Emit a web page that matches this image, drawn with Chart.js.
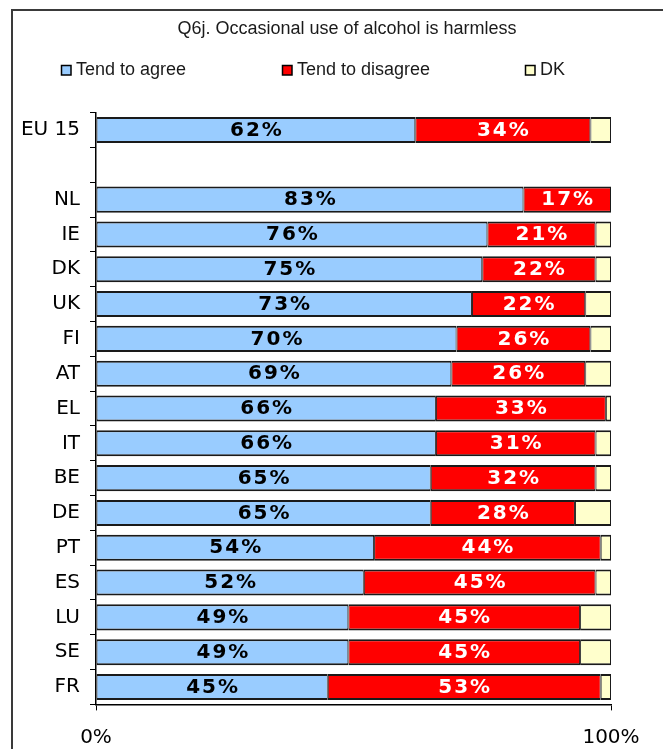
<!DOCTYPE html>
<html>
<head>
<meta charset="utf-8">
<script src="https://cdn.jsdelivr.net/npm/chart.js@4.4.1/dist/chart.umd.min.js"></script>
<style>
  html, body { margin: 0; padding: 0; background: #fff; overflow: hidden; }
  #frame { position: absolute; left: 11px; top: 9px; width: 700px; height: 800px; border-left: 2px solid #3a3a3a; border-top: 2px solid #3a3a3a; }
  #chart { position: absolute; left: 0; top: 0; }
</style>
</head>
<body>
<div id="frame"></div>
<canvas id="chart" width="663" height="749"></canvas>
<script>
const title = 'Q6j. Occasional use of alcohol is harmless'
const countries = ['EU 15', '', 'NL', 'IE', 'DK', 'UK', 'FI', 'AT', 'EL', 'IT', 'BE', 'DE', 'PT', 'ES', 'LU', 'SE', 'FR']
const agree = [62, null, 83, 76, 75, 73, 70, 69, 66, 66, 65, 65, 54, 52, 49, 49, 45]
const disagree = [34, null, 17, 21, 22, 22, 26, 26, 33, 31, 32, 28, 44, 45, 45, 45, 53]
const dk = [4, null, 0, 3, 3, 5, 4, 5, 1, 3, 3, 7, 2, 3, 6, 6, 2]
const xTicks = [0, 100]

// title + legend are drawn by hand, the built-in legend can't space items like this
const headerPlugin = {
  id: 'header',
  afterDraw (chart) {
    const ctx = chart.ctx
    ctx.save()
    ctx.fillStyle = '#1a1a1a'
    ctx.font = '18px "Liberation Sans", Arial, sans-serif'
    ctx.textAlign = 'center'
    ctx.textBaseline = 'middle'
    ctx.fillText(title, 347, 29)

    const legendX = [61, 282, 525]
    ctx.textAlign = 'left'
    ctx.font = '18px "Liberation Sans", Arial, sans-serif'
    chart.data.datasets.forEach((ds, i) => {
      const x = legendX[i]
      ctx.fillStyle = ds.backgroundColor
      ctx.fillRect(x, 65, 10, 10)
      ctx.strokeStyle = '#000'
      ctx.lineWidth = 1.5
      ctx.strokeRect(x + 0.5, 65.5, 9.5, 9.5)
      ctx.fillStyle = '#1a1a1a'
      ctx.fillText(ds.label, x + 15, 70)
    })
    ctx.restore()
  }
}

const valueLabels = {
  id: 'valueLabels',
  afterDatasetsDraw (chart) {
    const ctx = chart.ctx
    ctx.save()
    ctx.font = 'bold 20px "DejaVu Sans", sans-serif'
    ctx.letterSpacing = '2px'
    ctx.textAlign = 'center'
    ctx.textBaseline = 'middle'
    chart.data.datasets.forEach((ds, i) => {
      if (!ds.labelColor) return
      chart.getDatasetMeta(i).data.forEach((bar, j) => {
        const v = ds.data[j]
        if (!v) return
        ctx.fillStyle = ds.labelColor
        ctx.fillText(v + '%', (bar.x + bar.base) / 2 + 1, bar.y + 0.5)
      })
    })
    ctx.restore()
  }
}

const barStyle = {
  borderColor: '#1a1a1a',
  borderWidth: { top: 2, bottom: 2, left: 1, right: 1 },
  borderSkipped: false,
  categoryPercentage: 1,
  barPercentage: 0.75
}

new Chart(document.getElementById('chart'), {
  type: 'bar',
  data: {
    labels: countries,
    datasets: [
      { label: 'Tend to agree', data: agree, backgroundColor: '#99CCFF', labelColor: '#000', ...barStyle },
      { label: 'Tend to disagree', data: disagree, backgroundColor: '#FF0000', labelColor: '#fff', ...barStyle },
      { label: 'DK', data: dk, backgroundColor: '#FFFFCC', ...barStyle }
    ]
  },
  options: {
    indexAxis: 'y',
    responsive: false,
    animation: false,
    layout: { padding: { top: 112.6, right: 52, bottom: 0, left: 0 } },
    plugins: {
      legend: { display: false },
      title: { display: false },
      tooltip: { enabled: false }
    },
    scales: {
      x: {
        stacked: true,
        min: 0,
        max: 100,
        afterBuildTicks: axis => { axis.ticks = xTicks.map(v => ({ value: v })) },
        ticks: {
          callback: v => v + '%',
          color: '#000',
          font: { family: '"DejaVu Sans", sans-serif', size: 20 },
          padding: 15,
          maxRotation: 0
        },
        grid: { drawOnChartArea: false, drawTicks: true, tickLength: 6, color: '#000' },
        border: { color: '#000', width: 1.5 },
        afterFit: axis => { axis.height = 44.6 }
      },
      y: {
        stacked: true,
        ticks: {
          autoSkip: false,
          color: '#000',
          font: { family: '"DejaVu Sans", sans-serif', size: 20 },
          padding: 10
        },
        grid: { drawOnChartArea: false, drawTicks: true, tickLength: 6, color: '#000', offset: true },
        border: { color: '#000', width: 1.5 },
        afterFit: axis => { axis.width = 96 }
      }
    }
  },
  plugins: [headerPlugin, valueLabels]
})
</script>
</body>
</html>
